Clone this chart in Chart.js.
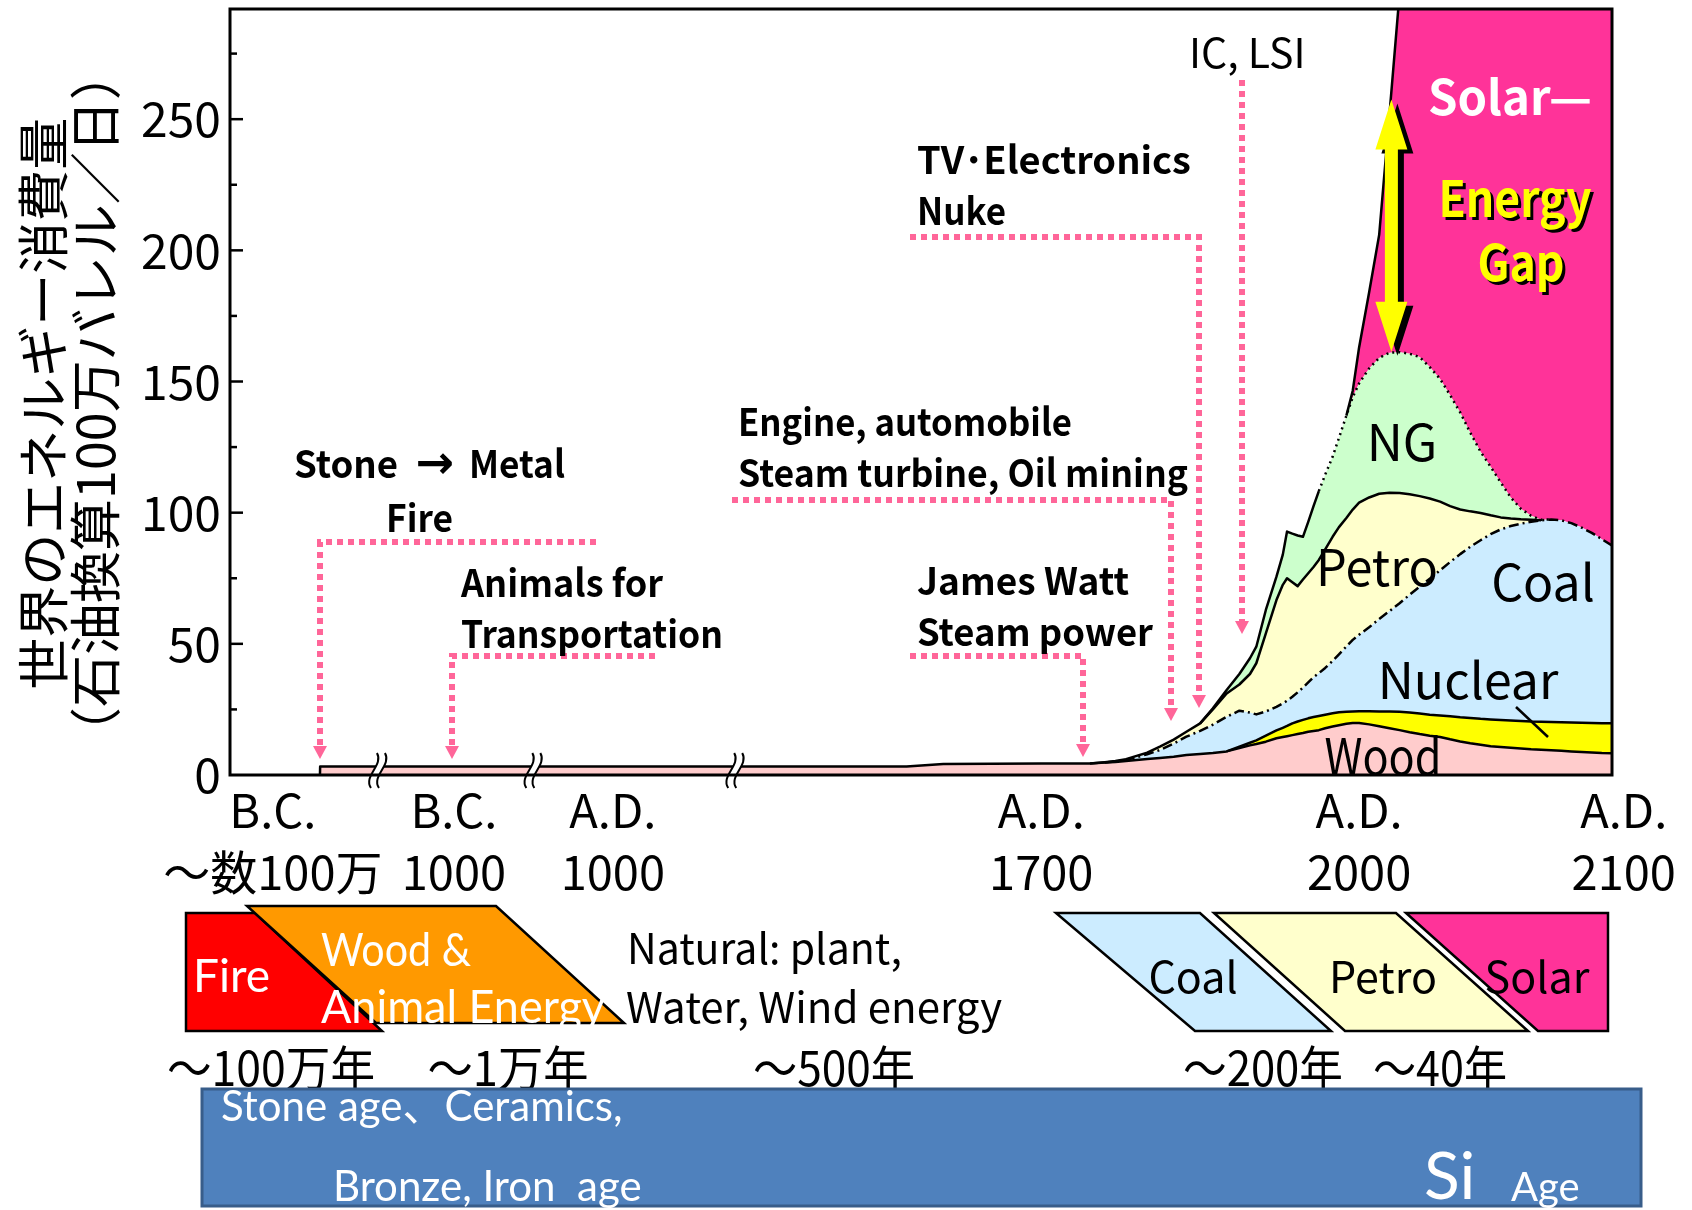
<!DOCTYPE html>
<html><head><meta charset="utf-8">
<script src="https://cdn.jsdelivr.net/npm/chart.js@4.4.1/dist/chart.umd.min.js"></script>
<style>html,body{margin:0;padding:0;background:#fff;}canvas{display:block;}</style>
</head><body>
<canvas id="c" width="1692" height="1210"></canvas>
<script>
// ---------- DATA ----------
const years = [-740000, -739000, 1000, 1480, 1540, 1700, 1746, 1760, 1770, 1780, 1790, 1800, 1812, 1825, 1837, 1850, 1862, 1875, 1887, 1897, 1903, 1912, 1922, 1928, 1932, 1937, 1942, 1947, 1952, 1957, 1962, 1968, 1975, 1981, 1988, 1994, 2000, 2003.8, 2007.6, 2011.5, 2015.3, 2019.1, 2022.9, 2026.7, 2030.6, 2034.4, 2038.2, 2042, 2045.9, 2049.7, 2053.5, 2057.3, 2061.1, 2065, 2068.8, 2072.6, 2076.4, 2080.2, 2084.1, 2087.9, 2091.7, 2095.5];

// cumulative upper boundary of each band (million barrels oil eq. / day)
const woodTop = [0, 3.2, 3.2, 3.2, 4.2, 4.4, 4.4, 4.8, 5.0, 5.3, 5.7, 6.1, 6.5, 7.0, 7.6, 8.0, 8.4, 9.0, 10.3, 11.3, 11.8, 12.7, 14.0, 14.5, 14.8, 15.2, 15.6, 16.0, 16.5, 16.8, 17.1, 17.8, 18.5, 19.0, 19.5, 19.8, 19.8, 19.3, 18.6, 17.8, 17.1, 16.3, 15.6, 15.0, 14.5, 13.6, 12.8, 12.1, 11.5, 11.0, 10.7, 10.4, 10.1, 9.8, 9.6, 9.4, 9.2, 9.0, 8.8, 8.6, 8.4, 8.3];
const nuclearTop = [0, 3.2, 3.2, 3.2, 4.2, 4.4, 4.4, 4.8, 5.0, 5.3, 5.7, 6.1, 6.5, 7.0, 7.6, 8.0, 8.4, 9.0, 10.8, 12.3, 13.2, 15.0, 17.0, 18.0, 18.7, 19.7, 20.4, 21.0, 21.6, 22.1, 22.5, 23.0, 23.5, 23.9, 24.1, 24.2, 24.3, 24.3, 24.2, 24.2, 24.1, 23.8, 23.4, 23.0, 22.7, 22.4, 22.0, 21.7, 21.4, 21.2, 21.0, 20.8, 20.6, 20.4, 20.3, 20.2, 20.1, 20.0, 19.9, 19.8, 19.7, 19.7];
const coalTop = [0, 3.2, 3.2, 3.2, 4.2, 4.4, 4.4, 4.8, 5.2, 5.8, 6.8, 7.9, 9.5, 12.0, 14.6, 16.8, 19.2, 22.2, 24.5, 23.8, 23.1, 24.2, 26.0, 27.3, 28.3, 29.8, 31.5, 33.3, 35.3, 37.3, 38.8, 40.8, 43.5, 46.0, 49.0, 51.5, 53.5, 56.3, 59.5, 62.5, 65.5, 68.7, 71.8, 74.8, 78.0, 81.2, 84.2, 87.0, 89.5, 91.8, 93.6, 94.9, 95.8, 96.5, 97.1, 97.4, 97.1, 96.0, 94.3, 92.3, 89.9, 87.5];
const petroTop = [0, 3.2, 3.2, 3.2, 4.2, 4.4, 4.4, 4.9, 5.3, 6.0, 7.3, 8.5, 10.8, 13.5, 16.5, 19.7, 25.0, 31.1, 34.5, 38.5, 42.6, 54.0, 66.7, 72.5, 75.0, 73.5, 72.0, 74.5, 76.9, 79.3, 82.0, 86.0, 90.8, 94.5, 98.0, 101.2, 103.8, 105.8, 107.2, 107.6, 107.5, 107.0, 106.3, 105.4, 104.2, 102.5, 101.2, 100.5, 99.9, 99.0, 98.2, 97.8, 97.5, 97.3, 97.1, 97.4, 97.1, 96.0, 94.3, 92.3, 89.9, 87.5];
const ngTop = [0, 3.2, 3.2, 3.2, 4.2, 4.4, 4.4, 4.9, 5.3, 6.0, 7.3, 8.5, 10.8, 13.5, 16.5, 19.7, 25.4, 32.4, 38.5, 44.5, 48.9, 62.9, 75.6, 84.0, 92.8, 92.0, 91.3, 90.8, 96.5, 102.5, 108.2, 114.5, 121.3, 128.5, 137.0, 144.0, 149.3, 155.0, 159.0, 161.0, 161.2, 160.6, 159.3, 155.5, 151.0, 144.8, 138.2, 130.5, 123.2, 117.5, 111.5, 105.8, 101.5, 98.8, 97.3, 97.4, 97.1, 96.0, 94.3, 92.3, 89.9, 87.5];
const solarTop = [0, 3.2, 3.2, 3.2, 4.2, 4.4, 4.4, 4.9, 5.3, 6.0, 7.3, 8.5, 10.8, 13.5, 16.5, 19.7, 25.4, 32.4, 38.5, 44.5, 48.9, 62.9, 75.6, 84.0, 92.8, 92.0, 91.3, 90.8, 96.5, 102.5, 108.2, 114.5, 121.3, 128.5, 137.0, 146.5, 163.0, 184.0, 206.0, 252.0, 298.0, 350, 350, 350, 350, 350, 350, 350, 350, 350, 350, 350, 350, 350, 350, 350, 350, 350, 350, 350, 350, 350];

const seriesNames = ['Wood', 'Nuclear', 'Coal', 'Petro', 'NG', 'Solar'];
const seriesColors = ['#FFCCCC', '#FFFF00', '#CCECFF', '#FFFFCC', '#CCFFCC', '#FF3399'];
const ngDottedFrom = 1962;

// x axis: broken time axis (anchor years and their relative position along the axis, 0..100)
const xTickYears = [-1000000, -1000, 1000, 1700, 2000, 2100];
const xTickPos = [3.1, 16.2, 27.7, 58.7, 81.7, 100.85];
const xTickLabels = [['B.C.', '～数100万'], ['B.C.', '1000'], ['A.D.', '1000'], ['A.D.', '1700'], ['A.D.', '2000'], ['A.D.', '2100']];
const axisBreakYears = [-420000, 0, 1200];
const yTicks = [0, 50, 100, 150, 200, 250];
const yMax = 292;

function yearToU(yr) {
  const A = xTickYears, P = xTickPos;
  if (yr <= A[0]) return P[0] + (yr - A[0]) * (P[1] - P[0]) / (A[1] - A[0]);
  for (let i = 0; i < A.length - 1; i++) {
    if (yr <= A[i + 1]) return P[i] + (yr - A[i]) * (P[i + 1] - P[i]) / (A[i + 1] - A[i]);
  }
  return P[P.length - 1];
}

const F_JP = '"Noto Sans CJK JP", sans-serif';
const F_LATO = 'Lato, "Noto Sans CJK JP", sans-serif';
const PINK = '#FF6699';

const allSeries = [woodTop, nuclearTop, coalTop, petroTop, ngTop, solarTop];
function coincide(i, a, b) {
  if (i === 0) return false;
  const s = allSeries[i], l = allSeries[i - 1];
  return Math.abs(s[a] - l[a]) < 1e-6 && Math.abs(s[b] - l[b]) < 1e-6;
}
const pts = s => years.map((yr, k) => ({x: yearToU(yr), y: s[k]}));

// fill-only datasets (indices 0..5, each filled down to the band below)
const fillSets = allSeries.map((s, i) => ({
  label: seriesNames[i] + ' area',
  data: pts(s),
  backgroundColor: seriesColors[i],
  borderColor: 'rgba(0,0,0,0)',
  borderWidth: 0,
  pointRadius: 0,
  tension: 0,
  order: 1,
  fill: i === 0 ? 'origin' : '-1'
}));
// outline datasets drawn on top
const lineSets = allSeries.map((s, i) => ({
  label: seriesNames[i],
  data: pts(s),
  borderColor: '#000',
  borderWidth: 2.5,
  borderJoinStyle: 'round',
  borderDash: i === 2 ? [10, 4, 2, 4] : [],
  pointRadius: 0,
  tension: 0,
  order: 0,
  fill: false,
  segment: {
    borderColor: ctx => coincide(i, ctx.p0DataIndex, ctx.p1DataIndex) ? 'rgba(0,0,0,0)' : '#000',
    borderDash: ctx => (i === 4 && years[ctx.p0DataIndex] >= ngDottedFrom) ? [2, 4] : undefined
  }
}));

function txt(ctx, s, x, y, font, color, align, maxW) {
  ctx.font = font; ctx.fillStyle = color; ctx.textAlign = align || 'left'; ctx.textBaseline = 'middle';
  if (maxW) ctx.fillText(s, x, y, maxW); else ctx.fillText(s, x, y);
}
function poly(ctx, p, fill, stroke, lw) {
  ctx.beginPath(); ctx.moveTo(p[0][0], p[0][1]);
  for (let i = 1; i < p.length; i++) ctx.lineTo(p[i][0], p[i][1]);
  ctx.closePath();
  if (fill) { ctx.fillStyle = fill; ctx.fill(); }
  if (stroke) { ctx.strokeStyle = stroke; ctx.lineWidth = lw || 2.5; ctx.lineJoin = 'miter'; ctx.stroke(); }
}
function pinkArrow(ctx, p) {
  ctx.save();
  ctx.strokeStyle = PINK; ctx.lineWidth = 6; ctx.setLineDash([6, 5]); ctx.lineCap = 'butt';
  ctx.beginPath(); ctx.moveTo(p[0][0], p[0][1]);
  for (let i = 1; i < p.length; i++) ctx.lineTo(p[i][0], p[i][1]);
  ctx.stroke();
  ctx.setLineDash([]);
  const [tx, ty] = p[p.length - 1];
  ctx.fillStyle = PINK;
  ctx.beginPath(); ctx.moveTo(tx - 7, ty); ctx.lineTo(tx + 7, ty); ctx.lineTo(tx, ty + 13); ctx.closePath(); ctx.fill();
  ctx.restore();
}

const decor = {
  id: 'decor',
  afterDatasetsDraw(chart) {
    const {ctx, chartArea: a, scales: {x, y}} = chart;
    ctx.save();
    // axis breaks
    const base = y.getPixelForValue(0);
    axisBreakYears.forEach(by => {
      const cx = x.getPixelForValue(yearToU(by));
      const bot = base + 13, top = base - 22;
      const L = [[cx - 7, bot], [cx - 15, bot - 12], [cx + 6, top + 12], [cx - 1, top]];
      const R = L.map(q => [q[0] + 8, q[1]]);
      ctx.beginPath();
      ctx.moveTo(L[0][0], L[0][1]); ctx.bezierCurveTo(L[1][0], L[1][1], L[2][0], L[2][1], L[3][0], L[3][1]);
      ctx.lineTo(R[3][0], R[3][1]); ctx.bezierCurveTo(R[2][0], R[2][1], R[1][0], R[1][1], R[0][0], R[0][1]);
      ctx.closePath(); ctx.fillStyle = '#fff'; ctx.fill();
      ctx.strokeStyle = '#000'; ctx.lineWidth = 2;
      [L, R].forEach(c => { ctx.beginPath(); ctx.moveTo(c[0][0], c[0][1]); ctx.bezierCurveTo(c[1][0], c[1][1], c[2][0], c[2][1], c[3][0], c[3][1]); ctx.stroke(); });
    });
    // frame
    ctx.strokeStyle = '#000'; ctx.lineWidth = 3;
    ctx.strokeRect(a.left, a.top, a.width, a.height);
    // inward y ticks (major + minor)
    ctx.lineWidth = 2.5;
    for (let v = 25; v <= yMax; v += 25) {
      const py = y.getPixelForValue(v);
      const len = v % 50 === 0 ? 13 : 7;
      ctx.beginPath(); ctx.moveTo(a.left, py); ctx.lineTo(a.left + len, py); ctx.stroke();
    }
    // pink dotted arrows
    pinkArrow(ctx, [[596, 542], [320, 542], [320, 746]]);
    pinkArrow(ctx, [[655, 656], [452, 656], [452, 746]]);
    pinkArrow(ctx, [[910, 656], [1083, 656], [1083, 744]]);
    pinkArrow(ctx, [[732, 500], [1171, 500], [1171, 708]]);
    pinkArrow(ctx, [[910, 237], [1199, 237], [1199, 695]]);
    pinkArrow(ctx, [[1242, 80], [1242, 621]]);
    // annotation texts
    const B = 'bold 38px ' + F_JP;
    txt(ctx, 'Stone', 294, 464, B, '#000', 'left', 104);
    txt(ctx, '→', 435, 466, 'bold 46px "DejaVu Sans", sans-serif', '#000', 'center');
    txt(ctx, 'Metal', 469, 464, B, '#000', 'left', 96);
    txt(ctx, 'Fire', 386, 518, B, '#000', 'left', 67);
    txt(ctx, 'Animals for', 461, 583, B, '#000', 'left', 202);
    txt(ctx, 'Transportation', 461, 634, B, '#000', 'left', 262);
    txt(ctx, 'Engine, automobile', 738, 422, B, '#000', 'left', 334);
    txt(ctx, 'Steam turbine, Oil mining', 738, 473, B, '#000', 'left', 450);
    txt(ctx, 'James Watt', 917, 581, B, '#000', 'left', 212);
    txt(ctx, 'Steam power', 917, 632, B, '#000', 'left', 236);
    txt(ctx, 'TV･Electronics', 917, 160, B, '#000', 'left', 276);
    txt(ctx, 'Nuke', 917, 211, B, '#000', 'left', 89);
    txt(ctx, 'IC, LSI', 1189, 52, '41px ' + F_JP, '#000', 'left', 119);
    // band labels
    const R = '50px ' + F_JP;
    txt(ctx, 'NG', 1402, 442, R, '#000', 'center');
    txt(ctx, 'Petro', 1377, 567, R, '#000', 'center', 122);
    txt(ctx, 'Coal', 1543, 582, R, '#000', 'center');
    txt(ctx, 'Nuclear', 1468, 680, R, '#000', 'center');
    txt(ctx, 'Wood', 1383, 756, R, '#000', 'center', 117);
    // nuclear pointer
    ctx.strokeStyle = '#000'; ctx.lineWidth = 2.5;
    ctx.beginPath(); ctx.moveTo(1516, 707); ctx.lineTo(1548, 737); ctx.stroke();
    // solar texts
    txt(ctx, 'Solar—', 1428, 97, 'bold 48px ' + F_JP, '#fff', 'left', 164);
    const EG = 'bold 50px ' + F_JP;
    txt(ctx, 'Energy', 1518, 201, EG, '#000', 'center', 153);
    txt(ctx, 'Energy', 1515, 198, EG, '#FFFF00', 'center', 153);
    txt(ctx, 'Gap', 1524, 265, EG, '#000', 'center', 87);
    txt(ctx, 'Gap', 1521, 262, EG, '#FFFF00', 'center', 87);
    // energy gap double arrow
    const ax = x.getPixelForValue(yearToU(2012.2));
    const yt = y.getPixelForValue(257.5), yb = y.getPixelForValue(161.3);
    const hh = 50, hw = 16, sw = 6.5;
    const arrow = [[ax, yt], [ax + hw, yt + hh], [ax + sw, yt + hh], [ax + sw, yb - hh], [ax + hw, yb - hh], [ax, yb], [ax - hw, yb - hh], [ax - sw, yb - hh], [ax - sw, yt + hh], [ax - hw, yt + hh]];
    poly(ctx, arrow.map(q => [q[0] + 6, q[1] + 4]), '#000');
    poly(ctx, arrow, '#FFFF00');
    ctx.restore();
  },
  afterDraw(chart) {
    const ctx = chart.ctx;
    ctx.save();
    // energy era boxes
    poly(ctx, [[186, 913], [255, 913], [382, 1031], [186, 1031]], '#FF0000', '#000');
    poly(ctx, [[247, 906], [496, 906], [624, 1023], [376, 1023]], '#FF9900', '#000');
    poly(ctx, [[1056, 913], [1200, 913], [1331, 1031], [1195, 1031]], '#CCECFF', '#000');
    poly(ctx, [[1214, 913], [1396, 913], [1528, 1031], [1345, 1031]], '#FFFFCC', '#000');
    poly(ctx, [[1406, 913], [1608, 913], [1608, 1031], [1538, 1031]], '#FF3399', '#000');
    txt(ctx, 'Fire', 193, 977, '46px ' + F_LATO, '#fff', 'left');
    txt(ctx, 'Wood &', 321, 951, '46px ' + F_LATO, '#fff', 'left', 150);
    txt(ctx, 'Animal Energy', 321, 1008, '46px ' + F_LATO, '#fff', 'left', 284);
    txt(ctx, 'Natural: plant,', 627, 948, '42px ' + F_JP, '#000', 'left', 275);
    txt(ctx, 'Water, Wind energy', 626, 1007, '42px ' + F_JP, '#000', 'left', 381);
    txt(ctx, 'Coal', 1193, 977, '43px ' + F_JP, '#000', 'center');
    txt(ctx, 'Petro', 1383, 977, '43px ' + F_JP, '#000', 'center');
    txt(ctx, 'Solar', 1537, 977, '43px ' + F_JP, '#000', 'center');
    // durations
    const D = '48px ' + F_JP;
    txt(ctx, '～100万年', 271, 1068, D, '#000', 'center', 208);
    txt(ctx, '～1万年', 508, 1068, D, '#000', 'center', 161);
    txt(ctx, '～500年', 834, 1068, D, '#000', 'center', 162);
    txt(ctx, '～200年', 1263, 1068, D, '#000', 'center', 160);
    txt(ctx, '～40年', 1440, 1068, D, '#000', 'center', 134);
    // age bar
    ctx.fillStyle = '#4F81BD'; ctx.fillRect(202, 1089, 1439, 117);
    ctx.strokeStyle = '#385D8A'; ctx.lineWidth = 3; ctx.strokeRect(202, 1089, 1439, 117);
    txt(ctx, 'Stone age、Ceramics,', 221, 1107, '42px ' + F_LATO, '#fff', 'left', 413);
    txt(ctx, 'Bronze, Iron  age', 333, 1187, '42px ' + F_LATO, '#fff', 'left', 324);
    txt(ctx, 'Si', 1424, 1178, '66px ' + F_LATO, '#fff', 'left');
    txt(ctx, 'Age', 1511, 1188, '40px ' + F_LATO, '#fff', 'left');
    ctx.restore();
  }
};

function build() {
  new Chart(document.getElementById('c'), {
    type: 'line',
    data: {datasets: fillSets.concat(lineSets)},
    plugins: [decor],
    options: {
      responsive: false, animation: false, devicePixelRatio: 1,
      layout: {padding: {top: 9, right: 80, left: 0, bottom: 0}, autoPadding: false},
      plugins: {legend: {display: false}, tooltip: {enabled: false}},
      scales: {
        x: {
          type: 'linear', min: 0, max: 100,
          grid: {display: false, drawTicks: false}, border: {display: false},
          afterBuildTicks: s => { s.ticks = xTickYears.map(yr => ({value: yearToU(yr)})); },
          afterFit: s => { s.height = 435; s.paddingLeft = 0; s.paddingRight = 0; },
          ticks: {
            autoSkip: false, maxRotation: 0, minRotation: 0, padding: 5, color: '#000',
            font: {family: F_JP, size: 47, lineHeight: 1.3},
            callback: (v, i) => xTickLabels[i]
          }
        },
        y: {
          type: 'linear', min: 0, max: yMax,
          grid: {display: false, drawTicks: false}, border: {display: false},
          afterBuildTicks: s => { s.ticks = yTicks.map(v => ({value: v})); },
          afterFit: s => { s.width = 230; s.paddingTop = 0; s.paddingBottom = 0; },
          ticks: {padding: 9, color: '#000', font: {family: F_JP, size: 48}},
          title: {
            display: true, color: '#000',
            text: ['世界のエネルギー消費量  ', '（石油換算100万バレル／日）  '],
            font: {family: F_JP, size: 52, lineHeight: 1.0},
            padding: {top: 17, bottom: 0}
          }
        }
      }
    }
  });
}
const fontLoads = ['400 48px "Noto Sans CJK JP"', '700 38px "Noto Sans CJK JP"', '400 44px Lato', '700 42px "DejaVu Sans"'].map(f => document.fonts.load(f));
Promise.all(fontLoads).then(build, build);
</script>
</body></html>
